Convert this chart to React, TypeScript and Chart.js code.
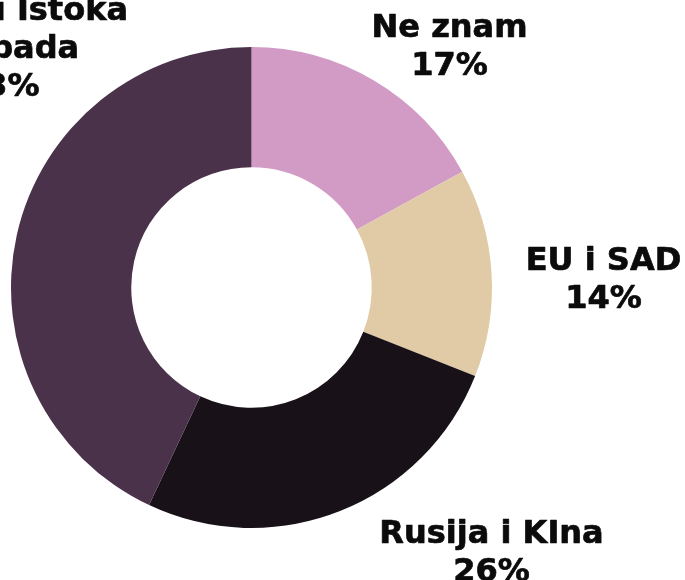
import React, { useEffect, useRef } from "react";
import { Chart, registerables } from "chart.js";

Chart.register(...registerables);

const categories = ["Ne znam", "EU i SAD", "Rusija i KIna", "Između Istoka i Zapada"];
const categoryLines = [["Ne znam"], ["EU i SAD"], ["Rusija i KIna"], ["Između Istoka", "i Zapada"]];
const values = [17, 14, 26, 43];
const colors = ["#D19BC6", "#E0CBA6", "#181218", "#4A324B"];

// label placement: angle (deg, clockwise from top) and distance as a multiple of the outer radius
const labelAngles = [39.2, 88.5, 137.7, 313.9];
const labelDistances = [1.303, 1.464, 1.483, 1.444];

const FONT = 'bold 32px "DejaVu Sans", sans-serif';
const LINE_HEIGHT = 38;

const labelPlugin = {
  id: "outerLabels",
  afterDraw(chart: any) {
    const ctx = chart.ctx;
    const meta = chart.getDatasetMeta(0);
    ctx.save();
    ctx.font = FONT;
    ctx.fillStyle = "#0b0b0b";
    ctx.strokeStyle = "#0b0b0b";
    ctx.lineWidth = 0.7;
    ctx.lineJoin = "round";
    ctx.textAlign = "center";
    ctx.textBaseline = "alphabetic";
    meta.data.forEach((arc: any, i: number) => {
      const r = arc.outerRadius * labelDistances[i];
      const a = (labelAngles[i] * Math.PI) / 180;
      const cx = arc.x + r * Math.sin(a);
      const cy = arc.y - r * Math.cos(a);
      const lines = [...categoryLines[i], values[i] + "%"];
      const n = lines.length;
      lines.forEach((t, k) => {
        const y = cy + 11 + (k - (n - 1) / 2) * LINE_HEIGHT;
        ctx.fillText(t, cx, y);
        ctx.strokeText(t, cx, y);
      });
    });
    ctx.restore();
  },
};

export default function App() {
  const ref = useRef<HTMLCanvasElement | null>(null);
  useEffect(() => {
    if (!ref.current) return;
    const chart = new Chart(ref.current, {
      type: "doughnut",
      data: {
        labels: categories,
        datasets: [
          {
            data: values,
            backgroundColor: colors,
            borderWidth: 0,
            hoverOffset: 0,
          },
        ],
      },
      options: {
        responsive: false,
        animation: false,
        cutout: "50%",
        layout: { padding: { left: 11, right: 193, top: 47, bottom: 52 } },
        plugins: {
          legend: { display: false },
          tooltip: { enabled: false },
        },
      },
      plugins: [labelPlugin],
    });
    return () => chart.destroy();
  }, []);
  return (
    <div style={{ position: "fixed", left: 0, top: 0, width: 685, height: 580, background: "#ffffff" }}>
      <canvas ref={ref} width={685} height={580} style={{ display: "block" }} />
    </div>
  );
}
